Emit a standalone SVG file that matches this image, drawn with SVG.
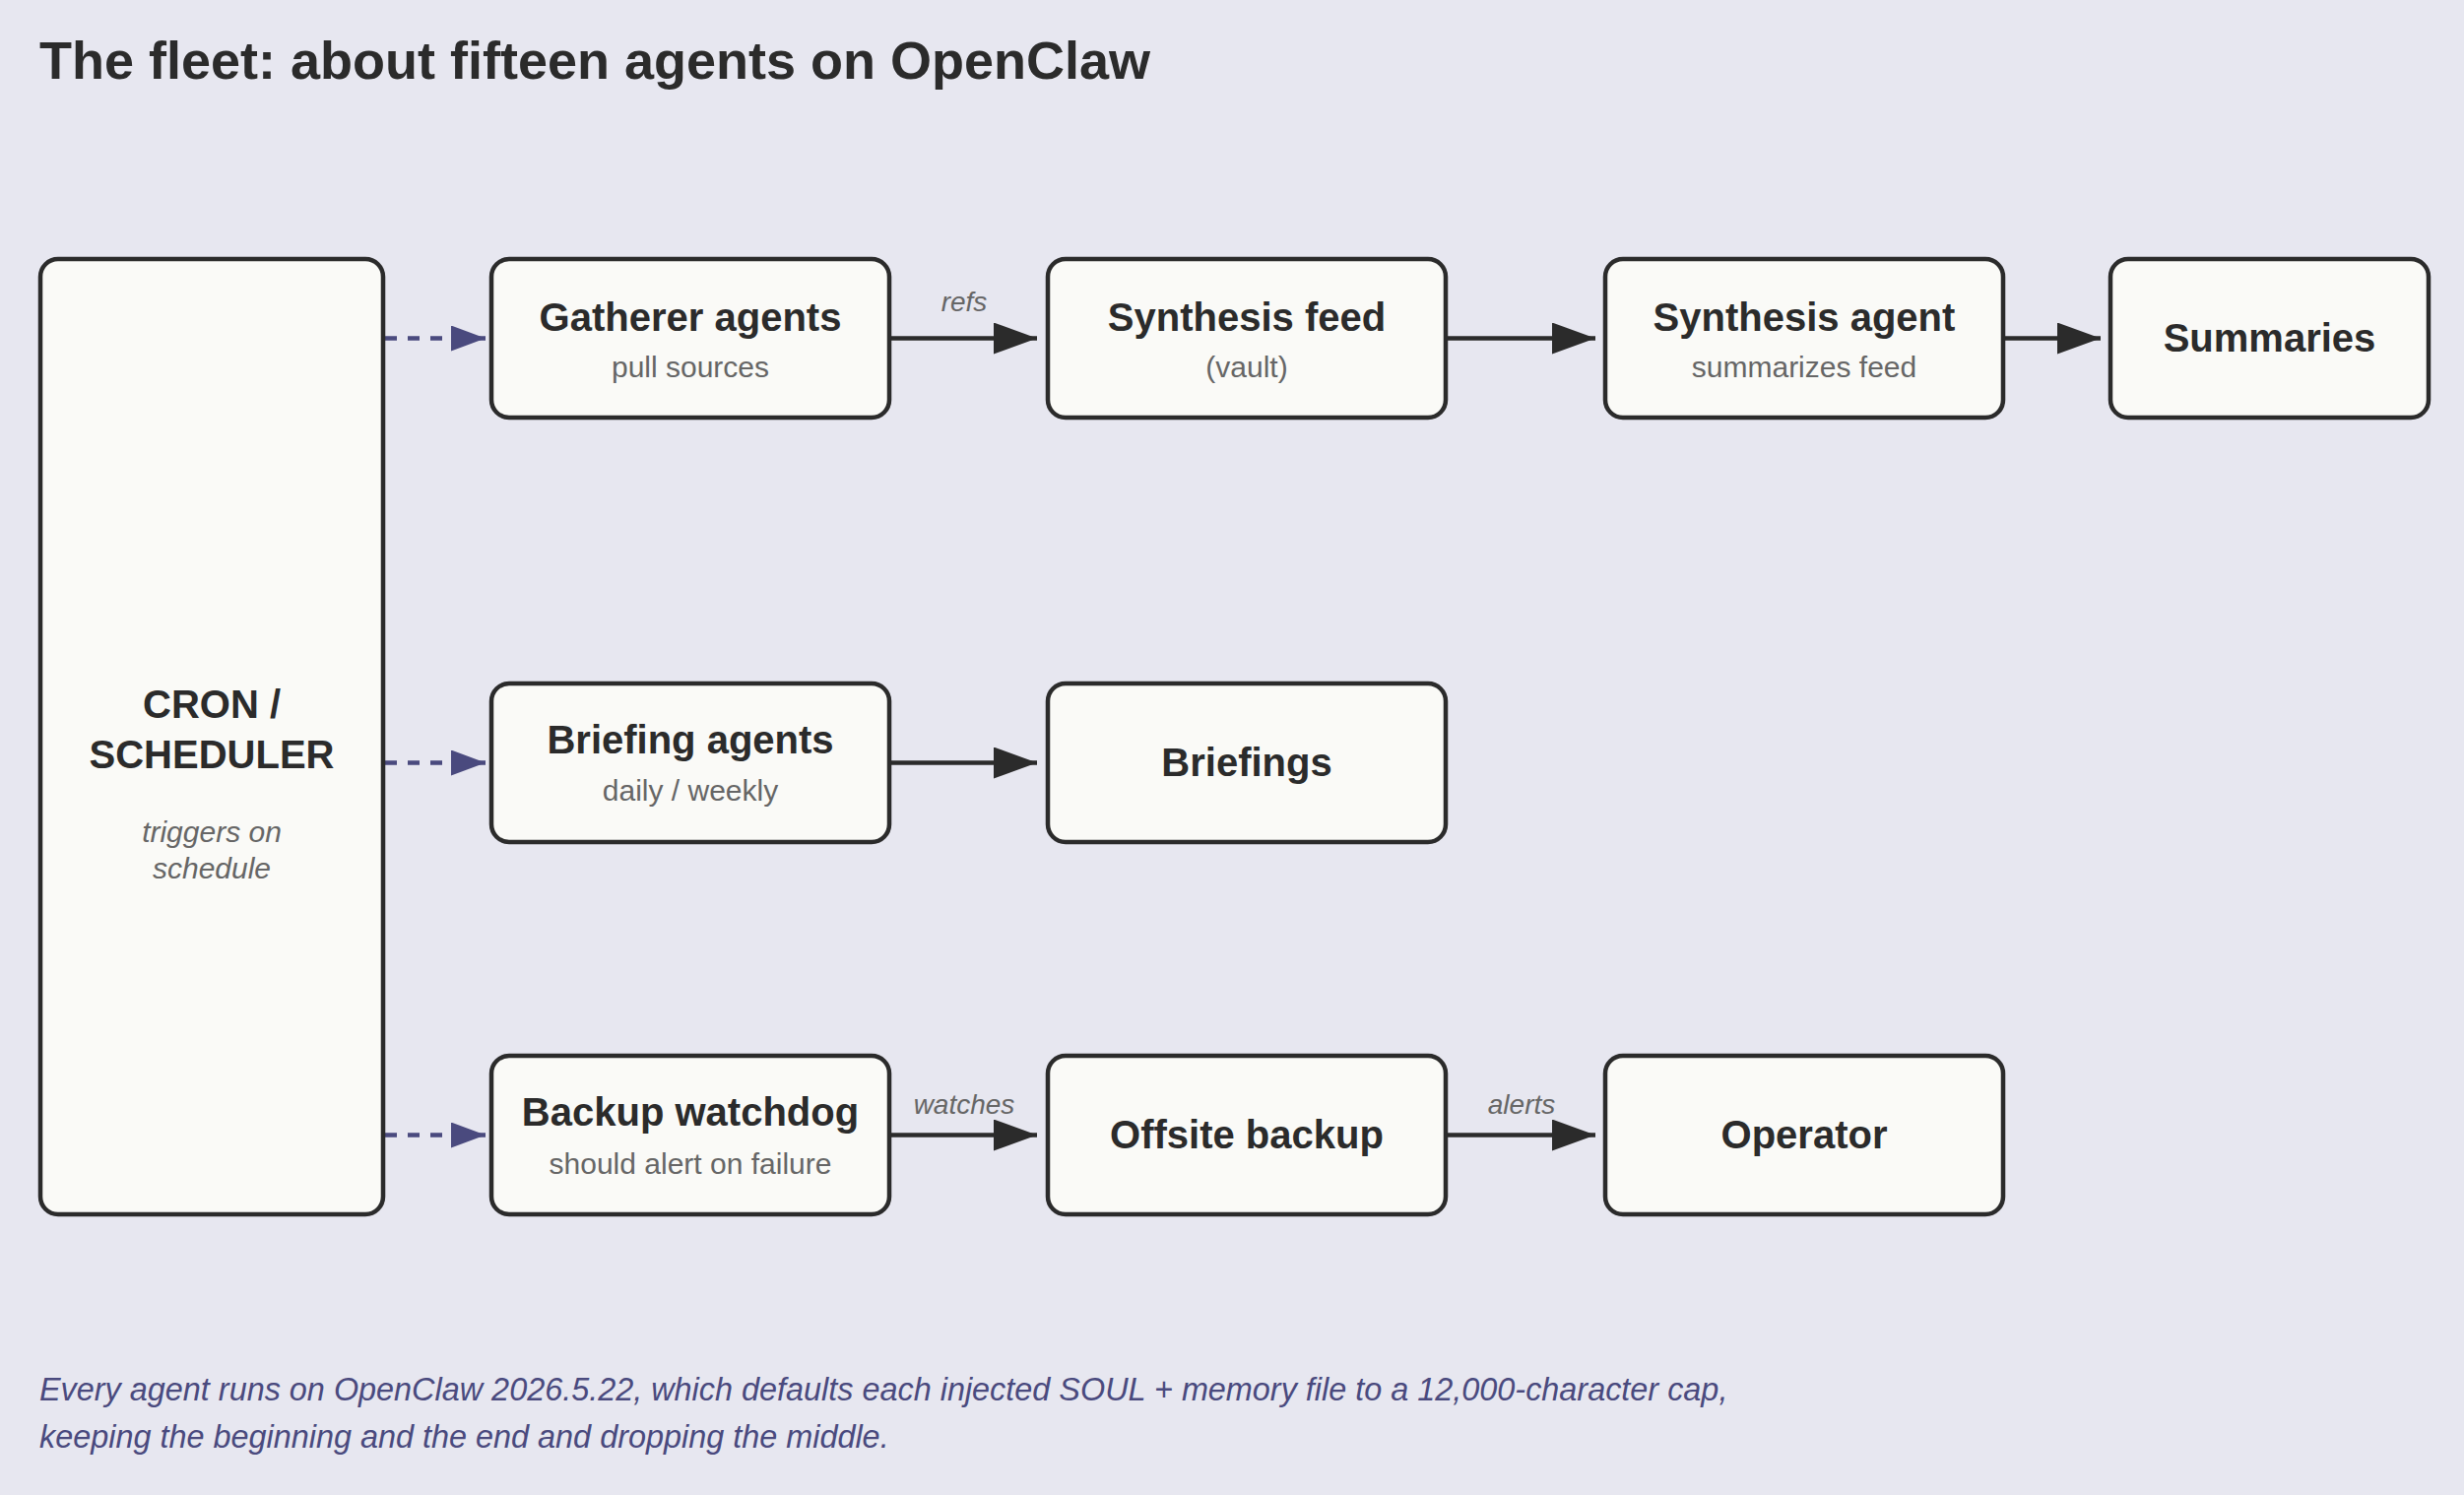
<svg xmlns="http://www.w3.org/2000/svg" width="2502" height="1518" viewBox="0 0 2502 1518">
<style>
.bg{fill:#e7e7f0}
.box{fill:#fafaf7;stroke:#2b2b2b;stroke-width:4.5}
.t{font-family:"Liberation Sans",Arial,sans-serif;font-weight:bold;font-size:40px;fill:#2b2b2b;text-anchor:middle}
.s{font-family:"Liberation Sans",Arial,sans-serif;font-size:30px;fill:#666;text-anchor:middle}
.si{font-family:"Liberation Sans",Arial,sans-serif;font-size:30px;font-style:italic;fill:#666;text-anchor:middle}
.lbl{font-family:"Liberation Sans",Arial,sans-serif;font-size:28px;font-style:italic;fill:#666;text-anchor:middle}
.title{font-family:"Liberation Sans",Arial,sans-serif;font-weight:bold;font-size:54px;fill:#2b2b2b}
.foot{font-family:"Liberation Sans",Arial,sans-serif;font-size:32.4px;font-style:italic;fill:#4a4a7e}
.e{fill:none;stroke:#2b2b2b;stroke-width:4.5;marker-end:url(#ah)}
.d{fill:none;stroke:#4a4a7e;stroke-width:4.5;stroke-dasharray:12 11;marker-end:url(#ahp)}
</style>
<defs>
<marker id="ah" viewBox="0 0 44 32" refX="44" refY="16" markerWidth="44" markerHeight="32" markerUnits="userSpaceOnUse" orient="auto"><path d="M0,0 L44,16 L0,32 z" fill="#2b2b2b"/></marker>
<marker id="ahp" viewBox="0 0 35 26" refX="35" refY="13" markerWidth="35" markerHeight="26" markerUnits="userSpaceOnUse" orient="auto"><path d="M0,0 L35,13 L0,26 z" fill="#4a4a7e"/></marker>
</defs>
<rect class="bg" x="0" y="0" width="2502" height="1518"/>
<text class="title" x="40" y="80">The fleet: about fifteen agents on OpenClaw</text>

<g id="connectors">
<path class="d" d="M391,343.5 H493"/>
<path class="d" d="M391,774.5 H493"/>
<path class="d" d="M391,1152.5 H493"/>
<path class="e" d="M905,343.5 H1053"/>
<text class="lbl" x="979" y="316">refs</text>
<path class="e" d="M1470,343.5 H1620"/>
<path class="e" d="M2036,343.5 H2133"/>
<path class="e" d="M905,774.5 H1053"/>
<path class="e" d="M905,1152.5 H1053"/>
<text class="lbl" x="979" y="1131">watches</text>
<path class="e" d="M1470,1152.5 H1620"/>
<text class="lbl" x="1545" y="1131">alerts</text>
</g>

<g id="cron">
<rect class="box" x="41" y="263" width="348" height="970" rx="18"/>
<text class="t" x="215" y="729">CRON /</text>
<text class="t" x="215" y="780">SCHEDULER</text>
<text class="si" x="215" y="855">triggers on</text>
<text class="si" x="215" y="892">schedule</text>
</g>
<g id="gatherer">
<rect class="box" x="499" y="263" width="404" height="161" rx="18"/>
<text class="t" x="701" y="336">Gatherer agents</text>
<text class="s" x="701" y="383">pull sources</text>
</g>
<g id="synthesis-feed">
<rect class="box" x="1064" y="263" width="404" height="161" rx="18"/>
<text class="t" x="1266" y="336">Synthesis feed</text>
<text class="s" x="1266" y="383">(vault)</text>
</g>
<g id="synthesis-agent">
<rect class="box" x="1630" y="263" width="404" height="161" rx="18"/>
<text class="t" x="1832" y="336">Synthesis agent</text>
<text class="s" x="1832" y="383">summarizes feed</text>
</g>
<g id="summaries">
<rect class="box" x="2143" y="263" width="323" height="161" rx="18"/>
<text class="t" x="2304.5" y="357">Summaries</text>
</g>
<g id="briefing-agents">
<rect class="box" x="499" y="694" width="404" height="161" rx="18"/>
<text class="t" x="701" y="765">Briefing agents</text>
<text class="s" x="701" y="813">daily / weekly</text>
</g>
<g id="briefings">
<rect class="box" x="1064" y="694" width="404" height="161" rx="18"/>
<text class="t" x="1266" y="788">Briefings</text>
</g>
<g id="backup-watchdog">
<rect class="box" x="499" y="1072" width="404" height="161" rx="18"/>
<text class="t" x="701" y="1143">Backup watchdog</text>
<text class="s" x="701" y="1192">should alert on failure</text>
</g>
<g id="offsite-backup">
<rect class="box" x="1064" y="1072" width="404" height="161" rx="18"/>
<text class="t" x="1266" y="1166">Offsite backup</text>
</g>
<g id="operator">
<rect class="box" x="1630" y="1072" width="404" height="161" rx="18"/>
<text class="t" x="1832" y="1166">Operator</text>
</g>

<text class="foot" x="40" y="1422">Every agent runs on OpenClaw 2026.5.22, which defaults each injected SOUL + memory file to a 12,000-character cap,</text>
<text class="foot" x="40" y="1470">keeping the beginning and the end and dropping the middle.</text>
</svg>
